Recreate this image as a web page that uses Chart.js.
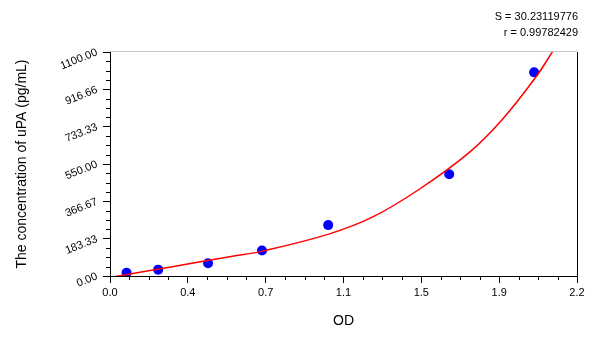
<!DOCTYPE html>
<html lang="en">
<head>
  <meta charset="UTF-8">
  <style>
    html, body { margin: 0; padding: 0; background: #fff; }
    .box { width: 600px; height: 337px; }
  </style>
</head>
<body>
  <div class="box"><canvas id="grafico"></canvas></div>

<script src="https://cdn.jsdelivr.net/npm/chart.js"></script>
<script>
  // standard points (OD vs concentration)
  const odPontos = [0.078, 0.227, 0.462, 0.716, 1.028, 1.598, 1.998];
  const concPontos = [15.63, 31.25, 62.5, 125, 250, 500, 1000];

  // fitted curve
  const odCurva = [0.008, 0.30, 0.564, 0.713, 1.034, 1.238, 1.457, 1.693, 1.849, 2.006, 2.09];
  const concCurva = [-6, 47, 95, 121, 207, 290, 426, 607, 770, 977, 1110];

  const xTicks = [0, 0.36667, 0.73333, 1.1, 1.46667, 1.83333, 2.2];
  const xLabels = ['0.0', '0.4', '0.7', '1.1', '1.5', '1.9', '2.2'];
  const yTicks = [0, 183.33, 366.67, 550, 733.33, 916.67, 1100];
  const yLabels = ['0.00', '183.33', '366.67', '550.00', '733.33', '916.66', '1100.00'];

  const textoS = 'S = 30.23119776';
  const textoR = 'r = 0.99782429';

  const fonte = '"Liberation Sans", Arial, sans-serif';

  const pontos = odPontos.map((x, i) => ({ x: x, y: concPontos[i] }));
  const curva = odCurva.map((x, i) => ({ x: x, y: concCurva[i] }));

  // minor ticks, frame and the S / r text
  const extras = {
    id: 'extras',
    afterDraw(chart) {
      const ctx = chart.ctx;
      const area = chart.chartArea;
      const xs = chart.scales.x;
      const ys = chart.scales.y;
      ctx.save();
      ctx.strokeStyle = '#000';
      ctx.lineWidth = 1;
      ctx.beginPath();
      for (let i = 1; i < 24; i++) {
        if (i % 4 === 0) continue;
        const px = Math.round(xs.getPixelForValue(i * 2.2 / 24)) + 0.5;
        ctx.moveTo(px, area.bottom);
        ctx.lineTo(px, area.bottom + 4);
        const py = Math.round(ys.getPixelForValue(i * 1100 / 24)) + 0.5;
        ctx.moveTo(area.left, py);
        ctx.lineTo(area.left - 4, py);
      }
      ctx.stroke();

      // right and top border
      ctx.beginPath();
      ctx.moveTo(Math.round(area.right) + 0.5, area.top);
      ctx.lineTo(Math.round(area.right) + 0.5, area.bottom);
      ctx.stroke();
      ctx.strokeStyle = '#c8c8c8';
      ctx.beginPath();
      ctx.moveTo(area.left, Math.round(area.top) - 0.5);
      ctx.lineTo(area.right, Math.round(area.top) - 0.5);
      ctx.stroke();

      ctx.fillStyle = '#000';
      ctx.font = '11px ' + fonte;
      ctx.textAlign = 'right';
      ctx.textBaseline = 'middle';
      ctx.fillText(textoS, 578, 17);
      ctx.fillText(textoR, 578, 33);
      ctx.restore();
    }
  };

  new Chart(document.getElementById('grafico'), {
    type: 'scatter',
    data: {
      datasets: [{
        data: curva,
        showLine: true,
        borderColor: '#ff0000',
        borderWidth: 1.5,
        pointRadius: 0,
        tension: 0.4
      }, {
        data: pontos,
        backgroundColor: '#0000ff',
        borderWidth: 0,
        pointRadius: 5
      }]
    },
    options: {
      responsive: true,
      maintainAspectRatio: false,
      animation: false,
      layout: { padding: { top: 52, right: 23, left: 0, bottom: 0 } },
      plugins: {
        legend: { display: false },
        tooltip: { enabled: false }
      },
      scales: {
        x: {
          min: 0,
          max: 2.2,
          afterBuildTicks: s => { s.ticks = xTicks.map(v => ({ value: v })); },
          afterFit: s => { s.height = 61; s.paddingLeft = 0; s.paddingRight = 0; },
          ticks: {
            color: '#000',
            padding: 3,
            font: { family: fonte, size: 11 },
            maxRotation: 0,
            callback: (v, i) => xLabels[i]
          },
          grid: { drawOnChartArea: false, color: '#000', tickLength: 7 },
          border: { color: '#000' },
          title: {
            display: true,
            text: 'OD',
            color: '#000',
            font: { family: fonte, size: 14 },
            padding: { top: 0, bottom: 7 }
          }
        },
        y: {
          min: 0,
          max: 1100,
          afterBuildTicks: s => { s.ticks = yTicks.map(v => ({ value: v })); },
          afterFit: s => { s.width = 110; s.paddingTop = 0; s.paddingBottom = 0; },
          ticks: {
            color: '#000',
            padding: 6,
            minRotation: 22,
            maxRotation: 22,
            font: { family: fonte, size: 11 },
            callback: (v, i) => yLabels[i]
          },
          grid: { drawOnChartArea: false, color: '#000', tickLength: 7 },
          border: { color: '#000' },
          title: {
            display: true,
            text: 'The concentration of uPA (pg/mL)',
            color: '#000',
            font: { family: fonte, size: 14 },
            padding: { top: 14, bottom: 0 }
          }
        }
      }
    },
    plugins: [extras]
  });
</script>
</body>
</html>
